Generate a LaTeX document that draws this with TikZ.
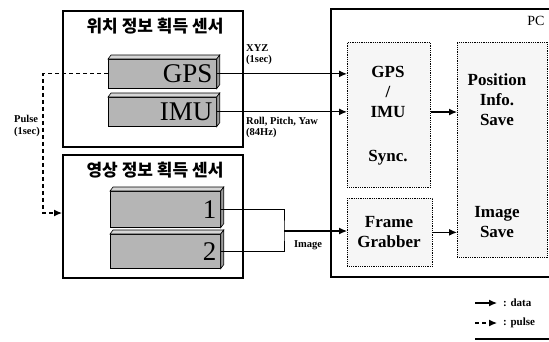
\documentclass[tikz,border=0pt]{standalone}
\usepackage{fontspec}
\setmainfont{Liberation Serif}
\newfontfamily\kr{Noto Sans CJK KR}
\usetikzlibrary{arrows.meta,calc}
\tikzset{
  outerbox/.style={draw, line width=1.5pt, fill=white},
  dotbox/.style={draw, densely dotted, line width=0.8pt, fill=gray!7, align=center},
  barface/.style={draw, line width=0.7pt, fill=gray!58, inner sep=3pt, align=right, anchor=north west, font=\fontsize{27}{27}\selectfont},
  tiny/.style={font=\bfseries\fontsize{10.5}{11.5}\selectfont, align=left, inner sep=1pt},
  legtext/.style={font=\bfseries\fontsize{11}{12}\selectfont, inner sep=1pt},
  dataarrow/.style={line width=1.2pt, -{Latex[length=8pt,width=7pt]}},
  pulsearrow/.style={line width=1.2pt, dash pattern=on 4pt off 3pt, -{Latex[length=8pt,width=7pt]}},
  ktitle/.style={font=\kr\bfseries\fontsize{17}{19}\selectfont, inner sep=0pt},
  boxtext/.style={font=\bfseries\fontsize{17}{20}\selectfont, align=center, inner sep=0pt}
}
\newcommand\barfaces[1]{%
  \filldraw[fill=gray!32, line width=0.6pt] (#1.north west) -- ++(3,-4) -- ($(#1.north east)+(3,-4)$) -- (#1.north east) -- cycle;
  \filldraw[fill=gray!78, line width=0.6pt] (#1.north east) -- ++(3,-4) -- ($(#1.south east)+(3,-4)$) -- (#1.south east) -- cycle;
}
\begin{document}
\begin{tikzpicture}[x=1pt,y=-1pt]
\useasboundingbox (0,0) rectangle (549,341);
\clip (0,0) rectangle (549,341);
% sensor boxes
\node[outerbox, minimum width=180pt, minimum height=136pt, anchor=north west] (box1) at (62,10) {};
\node[ktitle] (t1) at (155,26) {위치 정보 획득 센서};
\node[outerbox, minimum width=180pt, minimum height=123pt, anchor=north west] (box2) at (62,154) {};
\node[ktitle] (t2) at (155,170) {영상 정보 획득 센서};
% bars
\node[barface, minimum width=108pt, minimum height=29pt, text width=100pt] (gps) at (108,59) {GPS};
\barfaces{gps}
\node[barface, minimum width=108pt, minimum height=29pt, text width=100pt] (imu) at (108,97) {IMU};
\barfaces{imu}
\node[barface, minimum width=110pt, minimum height=36pt, text width=102pt] (cam1) at (110,191) {1};
\barfaces{cam1}
\node[barface, minimum width=110pt, minimum height=34pt, text width=102pt] (cam2) at (110,234) {2};
\barfaces{cam2}
% PC box
\node[outerbox, minimum width=240pt, minimum height=268pt, anchor=north west] (pcbox) at (330,8) {};
\node[font=\fontsize{14}{14}\selectfont, inner sep=0pt] (pc) at (536,21) {PC};
\node[dotbox, minimum width=83pt, minimum height=145pt, anchor=north west] (sync) at (347,42) {};
\node[boxtext] (synct) at (388,92) {GPS\\/\\IMU};
\node[boxtext] (synct2) at (388,158) {Sync.};
\node[dotbox, minimum width=90pt, minimum height=215pt, anchor=north west] (save) at (457,42) {};
\node[boxtext] (savet) at (497,100) {Position\\Info.\\Save};
\node[boxtext] (savet2) at (497,222) {Image\\Save};
\node[dotbox, minimum width=85pt, minimum height=68pt, anchor=north west] (fgbox) at (347,198) {};
\node[boxtext] (fg) at (389,232) {Frame\\Grabber};
% data arrows
\draw[dataarrow] (gps.east) -- (gps.east -| sync.west);
\draw[dataarrow] (imu.east) -- (imu.east -| sync.west);
\coordinate (mid) at (0,112);
\draw[dataarrow] (mid -| sync.east) -- (mid -| save.west);
\draw[dataarrow] (fgbox.east) -- (fgbox.east -| save.west);
\coordinate (brk) at (284,231);
\draw[line width=1pt] (cam1.east) -| (brk) |- (cam2.east);
\draw[dataarrow] (brk) -- (brk -| fgbox.west);
% pulse
\coordinate (pc1) at (43,0);
\coordinate (pc2) at (43,213);
\draw[pulsearrow] (gps.west) -- (gps.west -| pc1) -- (pc2) -- (pc2 -| box2.west);
% labels
\node[tiny, anchor=south west] (lxyz) at (245,66) {XYZ\\(1sec)};
\node[tiny, anchor=north west] (lrpy) at (245,116) {Roll, Pitch, Yaw\\(84Hz)};
\node[tiny, anchor=east] (lpulse) at (41,126) {Pulse\\(1sec)};
\node[tiny] (limg) at (308,245) {Image};
% legend
\coordinate (la) at (475,303);
\coordinate (lb) at (475,323);
\draw[dataarrow] (la) -- ++(22,0) coordinate (la2);
\node[legtext, anchor=west] (ldata) at ($(la2)+(5,0)$) {: data};
\draw[pulsearrow] (lb) -- ++(22,0) coordinate (lb2);
\node[legtext, anchor=west] (lpul) at ($(lb2)+(5,0)$) {: pulse};
\draw[line width=1.4pt] (475,339) -- (549,339);
\end{tikzpicture}
\end{document}
